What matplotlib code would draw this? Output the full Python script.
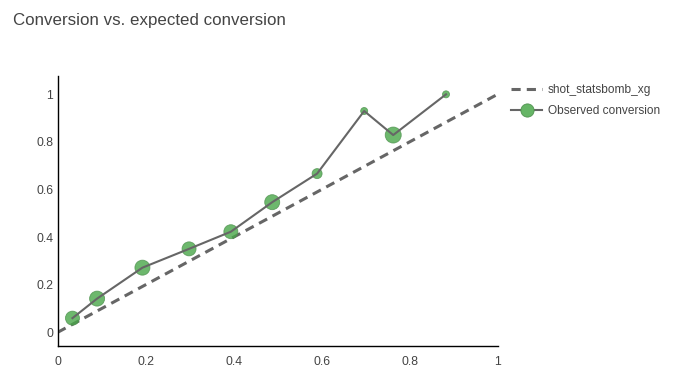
import matplotlib
matplotlib.use('Agg')
import matplotlib.pyplot as plt
import numpy as np

# data
xg_bins = [0.034, 0.090, 0.193, 0.299, 0.394, 0.488, 0.590, 0.697, 0.763, 0.883]
observed = [0.060, 0.142, 0.272, 0.351, 0.423, 0.547, 0.667, 0.930, 0.829, 1.0]
marker_px = [14, 15, 15, 14, 14, 15, 10, 7, 16, 7]
diag = [0, 1]

plt.rcParams['font.family'] = ['Liberation Sans', 'DejaVu Sans']

fig = plt.figure(figsize=(6.8, 3.77), dpi=100)
W, H = 680, 377
ax = fig.add_axes([57.5 / W, (H - 346) / H, (497.5 - 57.5) / W, (346 - 76) / H])

# diagonal line of expected conversion
ax.plot(diag, diag, color='#666666', lw=2.2, linestyle=(0, (3, 2)),
        label='shot_statsbomb_xg', zorder=2)

# observed conversion: markers sized by bin size, line on top
sizes = (np.array(marker_px) * 0.72) ** 2
ax.scatter(xg_bins, observed, s=sizes, color='#48a648', alpha=0.8,
           edgecolors='#4f924f', linewidths=0.6, zorder=3)
ax.plot(xg_bins, observed, color='#666666', lw=1.5, zorder=4)

# legend proxy for the observed series
ax.plot([], [], color='#666666', lw=1.5, marker='o', markersize=9.5,
        markerfacecolor='#66b566', markeredgecolor='#4f924f',
        markeredgewidth=0.6, label='Observed conversion')

ax.set_xlim(0, 1)
ax.set_ylim(-0.057, 1.077)
ax.set_xticks([0, 0.2, 0.4, 0.6, 0.8, 1])
ax.set_xticklabels(['0', '0.2', '0.4', '0.6', '0.8', '1'])
ax.set_yticks([0, 0.2, 0.4, 0.6, 0.8, 1])
ax.set_yticklabels(['0', '0.2', '0.4', '0.6', '0.8', '1'])
ax.tick_params(axis='x', length=0, labelsize=8.8, labelcolor='#444444', pad=7)
ax.tick_params(axis='y', length=0, labelsize=8.8, labelcolor='#444444', pad=3)

for side in ['top', 'right']:
    ax.spines[side].set_visible(False)
for side in ['left', 'bottom']:
    ax.spines[side].set_color('#000000')
    ax.spines[side].set_linewidth(1)

fig.text(13 / W, 1 - 20 / H, 'Conversion vs. expected conversion',
         fontsize=12.2, color='#444444', va='center', ha='left')

fig.legend(loc='upper left', bbox_to_anchor=(511 / W, 1 - 84 / H),
           frameon=False, fontsize=8.6, handlelength=2.6, handletextpad=0.5,
           labelspacing=0.75, borderpad=0, borderaxespad=0,
           labelcolor='#444444')

fig.savefig('out.png', dpi=100)
